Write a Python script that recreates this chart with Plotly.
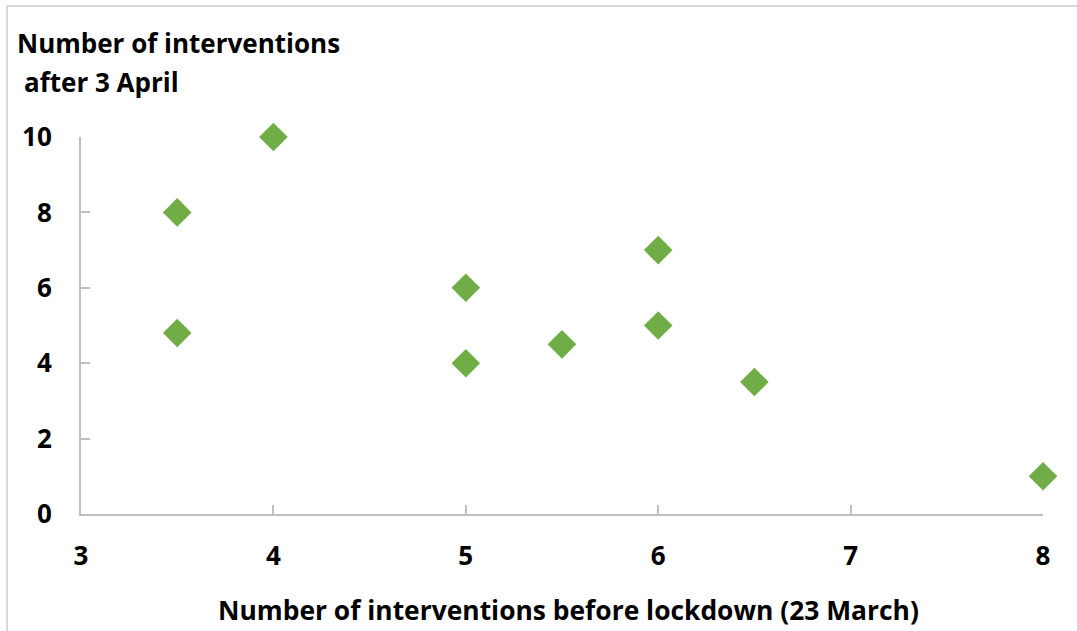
import plotly.graph_objects as go

before_lockdown = [3.5, 3.5, 4, 5, 5, 5.5, 6, 6, 6.5, 8]
after_april = [8, 4.8, 10, 6, 4, 4.5, 7, 5, 3.5, 1]
x_ticks = [3, 4, 5, 6, 7, 8]
y_ticks = [0, 2, 4, 6, 8, 10]

FONT = "Open Sans"
fig = go.Figure()
fig.add_trace(go.Scatter(
    x=before_lockdown, y=after_april, mode="markers", cliponaxis=False,
    marker=dict(symbol="diamond", size=22, color="#70AD47", line=dict(width=0)),
    showlegend=False,
))

axis_common = dict(
    showgrid=False, zeroline=False, showline=True, linecolor="#BFBFBF", linewidth=2,
    ticks="inside", ticklen=9, tickwidth=2, tickcolor="#BFBFBF", automargin=False,
    tickfont=dict(family=FONT, size=26, color="black", weight="bold"),
)
fig.update_xaxes(range=[3, 8], tickvals=x_ticks, ticklabelstandoff=18, **axis_common)
fig.update_yaxes(range=[0, 10], tickvals=y_ticks, ticklabelstandoff=22, **axis_common)

title_font = dict(family=FONT, size=26, color="black", weight="bold")
fig.add_annotation(
    text="Number of interventions", xref="paper", yref="paper",
    x=-0.0686, y=1.2493, xanchor="left", yanchor="middle", showarrow=False, font=title_font,
)
fig.add_annotation(
    text="after 3 April", xref="paper", yref="paper",
    x=-0.0613, y=1.1459, xanchor="left", yanchor="middle", showarrow=False, font=title_font,
)
fig.add_annotation(
    text="Number of interventions before lockdown (23 March)", xref="paper", yref="paper",
    x=0.507, y=-0.2546, xanchor="center", yanchor="middle", showarrow=False,
    font=dict(family=FONT, size=26.4, color="black", weight="bold"),
)
fig.add_shape(
    type="rect", xref="paper", yref="paper", x0=-0.0769, x1=1.2, y0=-0.5, y1=1.3475,
    line=dict(color="#D9D9D9", width=2), fillcolor="rgba(0,0,0,0)", layer="below",
)

fig.update_layout(
    width=1077, height=631, margin=dict(l=81, r=34, t=137, b=117),
    paper_bgcolor="white", plot_bgcolor="white",
)
fig.write_html("out.html", config={"displayModeBar": False},
               post_script="document.body.style.margin='0';")
